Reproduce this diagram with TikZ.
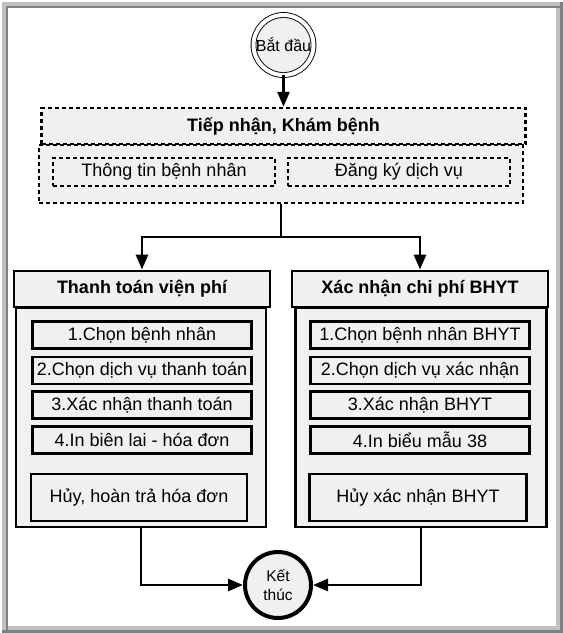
\documentclass[tikz,border=0pt]{standalone}
\usepackage{fontspec}
\setmainfont{Liberation Sans}
\usetikzlibrary{arrows.meta}
\definecolor{boxgray}{HTML}{F0F0F0}
\definecolor{framelight}{HTML}{C0C0C0}
\definecolor{framedark}{HTML}{808080}
\begin{document}
\begin{tikzpicture}[x=1pt, y=-1pt,
  dbox/.style={draw, dash pattern=on 4pt off 3pt, line width=2.5pt, fill=boxgray, inner sep=0pt, font=\fontsize{18}{20}\selectfont},
  sbox/.style={draw, line width=2.8pt, fill=boxgray, inner sep=0pt, font=\fontsize{18}{20}\selectfont},
  conn/.style={line width=2.8pt, -{Triangle[length=15pt, width=12pt]}}]
\useasboundingbox (0,0) rectangle (563,633);
\fill[framedark] (1.5,1.5) rectangle (563,633);
\fill[framelight] (1.5,1.5) rectangle (560,630);
\fill[framedark] (6,6) rectangle (560,630);
\fill[framelight] (8,8) rectangle (560,630);
\fill[white] (8,8) rectangle (556,626);
\node[circle, draw, line width=0.9pt, double=white, double distance=4pt, fill=boxgray, minimum size=60pt, inner sep=0pt, font=\fontsize{16}{18}\selectfont] (batdau) at (283.5,45){Bắt đầu};
\node[dbox, minimum width=484pt, minimum height=58pt] (tbody) at (281,174){};
\node[dbox, minimum width=484pt, minimum height=36pt, font=\fontsize{18}{20}\selectfont\bfseries] (tiep) at (283.5,126){Tiếp nhận, Khám bệnh};
\node[dbox, minimum width=222pt, minimum height=28pt] (ttin) at (164,172){Thông tin bệnh nhân};
\node[dbox, minimum width=222pt, minimum height=28pt] (dky) at (399,172){Đăng ký dịch vụ};
\draw[conn](batdau) -- (tiep);
\coordinate (tach) at (281,237);
\draw[line width=2.8pt](tbody) -- (tach);
\node[sbox, minimum width=250pt, minimum height=219pt] (ttbody) at (141,417.5){};
\node[sbox, minimum width=256pt, minimum height=36pt, font=\fontsize{18}{20}\selectfont\bfseries] (ttvp) at (142,289){Thanh toán viện phí};
\node[sbox, minimum width=219pt, minimum height=27pt] (l1) at (142,335){1.Chọn bệnh nhân};
\node[sbox, minimum width=219pt, minimum height=27pt] (l2) at (142,370.5){2.Chọn dịch vụ thanh toán};
\node[sbox, minimum width=219pt, minimum height=27pt] (l3) at (142,405){3.Xác nhận thanh toán};
\node[sbox, minimum width=219pt, minimum height=27pt] (l4) at (142,440){4.In biên lai - hóa đơn};
\node[sbox, minimum width=216pt, minimum height=47pt] (lhuy) at (139,497.5){Hủy, hoàn trả hóa đơn};
\node[sbox, minimum width=251pt, minimum height=219pt] (xnbody) at (421,417.5){};
\node[sbox, minimum width=256pt, minimum height=36pt, font=\fontsize{18}{20}\selectfont\bfseries] (xn) at (420,289){Xác nhận chi phí BHYT};
\node[sbox, minimum width=219pt, minimum height=27pt] (r1) at (420,335){1.Chọn bệnh nhân BHYT};
\node[sbox, minimum width=219pt, minimum height=27pt] (r2) at (420,370.5){2.Chọn dịch vụ xác nhận};
\node[sbox, minimum width=219pt, minimum height=27pt] (r3) at (420,405){3.Xác nhận BHYT};
\node[sbox, minimum width=219pt, minimum height=27pt] (r4) at (420,440){4.In biểu mẫu 38};
\node[sbox, minimum width=217pt, minimum height=47pt] (rhuy) at (418,497.5){Hủy xác nhận BHYT};
\draw[conn](tach) -| (ttvp);
\draw[conn](tach) -| (xn);
\node[circle, draw, line width=4pt, fill=boxgray, minimum size=66pt, inner sep=0pt, align=center, font=\fontsize{15.5}{19}\selectfont] (ketthuc) at (278,585){Kết\\thúc};
\draw[conn](ttbody) |- (ketthuc);
\draw[conn](xnbody) |- (ketthuc);
\end{tikzpicture}
\end{document}
